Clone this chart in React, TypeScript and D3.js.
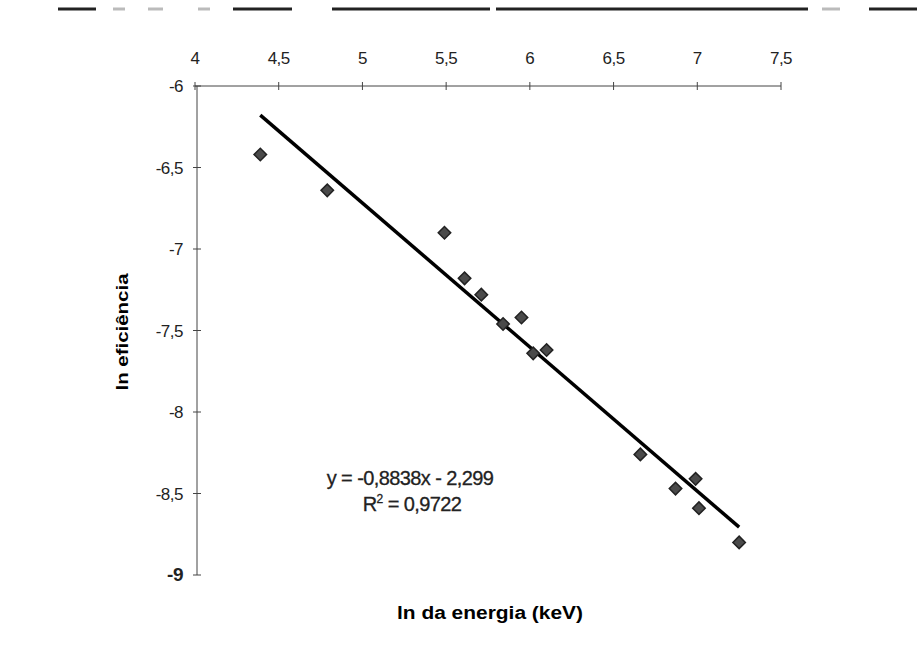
import React from "react";
import * as d3 from "d3";

// ln(energy) vs ln(efficiency) points
const lnEnergy = [4.39, 4.79, 5.49, 5.61, 5.71, 5.84, 5.95, 6.02, 6.10, 6.66, 6.87, 6.99, 7.01, 7.25];
const lnEff = [-6.42, -6.64, -6.90, -7.18, -7.28, -7.46, -7.42, -7.64, -7.62, -8.26, -8.47, -8.41, -8.59, -8.80];

const xTicks = [4, 4.5, 5, 5.5, 6, 6.5, 7, 7.5];
const yTicks = [-6, -6.5, -7, -7.5, -8, -8.5, -9];

const slope = -0.8838;
const intercept = -2.299;
const eqLabel = "y = -0,8838x - 2,299";
const r2Value = "0,9722";

// dark smudges of the scan along the top edge
const scanBits = [[58, 96, 1], [113, 125, 0.3], [148, 163, 0.3], [198, 210, 0.3], [233, 292, 1], [332, 490, 1], [496, 808, 1], [822, 840, 0.3], [869, 917, 1]];

const W = 917;
const H = 671;
const font = "'Liberation Sans', Arial, sans-serif";
const fmt = (v: number) => String(v).replace(".", ",");

export default function App() {
  const x = d3.scaleLinear().domain([4, 7.5]).range([195, 781]);
  const y = d3.scaleLinear().domain([-6, -9]).range([86, 575]);

  const pts = lnEnergy.map((e, i) => ({ e, f: lnEff[i] }));
  const x0 = d3.min(lnEnergy) as number;
  const x1 = d3.max(lnEnergy) as number;
  const fit = d3.line<number>()
    .x(d => x(d))
    .y(d => y(slope * d + intercept));

  const diamond = d3.symbol().type(d3.symbolSquare).size(78)();

  return (
    <svg width={W} height={H} style={{ position: "absolute", left: 0, top: 0, background: "#fff" }}>
      <rect width={W} height={H} fill="#fff" />
      {scanBits.map(([a, b, o], i) => (
        <line key={i} x1={a} x2={b} y1={9} y2={9} stroke="#222" strokeWidth={3} opacity={o} />
      ))}

      {/* top x axis at y = -6 */}
      <line x1={x(4)} x2={x(7.5)} y1={y(-6)} y2={y(-6)} stroke="#444" strokeWidth={1} />
      {xTicks.map(t => (
        <g key={t}>
          <line x1={x(t)} x2={x(t)} y1={y(-6) - 4} y2={y(-6) + 4} stroke="#444" />
          <text x={x(t)} y={64} textAnchor="middle" fontFamily={font} fontSize={17} fill="#222" letterSpacing={-0.5}>{fmt(t)}</text>
        </g>
      ))}

      {/* left y axis at x = 4 */}
      <line x1={x(4) + 2} x2={x(4) + 2} y1={y(-6)} y2={y(-9)} stroke="#444" strokeWidth={1} />
      {yTicks.map(t => (
        <g key={t}>
          <line x1={x(4) - 2} x2={x(4) + 6} y1={y(t)} y2={y(t)} stroke="#444" />
          <text x={183} y={y(t) + 6} textAnchor="end" fontFamily={font}
            fontSize={t === -9 ? 19 : 17} fontWeight={t === -9 ? "bold" : "normal"} fill="#222" letterSpacing={-0.5}>{fmt(t)}</text>
        </g>
      ))}

      <path d={fit([x0, x1]) as string} stroke="#000" strokeWidth={3.5} fill="none" />

      {pts.map((p, i) => (
        <path key={i} d={diamond as string} transform={`translate(${x(p.e)},${y(p.f)}) rotate(45)`}
          fill="#4a4a4a" stroke="#222" strokeWidth={1.5} />
      ))}

      <text x={410} y={485} textAnchor="middle" fontFamily={font} fontSize={20} fill="#222" letterSpacing={-0.6}
        stroke="#222" strokeWidth={0.3}>{eqLabel}</text>
      <text x={412} y={511} textAnchor="middle" fontFamily={font} fontSize={20} fill="#222" letterSpacing={-0.6}
        stroke="#222" strokeWidth={0.3}>
        R<tspan fontSize={12} dy={-8}>2</tspan><tspan dy={8}> = {r2Value}</tspan>
      </text>

      <text x={490} y={619} textAnchor="middle" fontFamily={font} fontSize={18} fontWeight="bold"
        textLength={186} lengthAdjust="spacingAndGlyphs" fill="#000">ln da energia (keV)</text>
      <text transform="translate(128,332) rotate(-90)" textAnchor="middle" fontFamily={font} fontSize={16}
        fontWeight="bold" textLength={117} lengthAdjust="spacingAndGlyphs" fill="#000">ln eficiência</text>
    </svg>
  );
}
